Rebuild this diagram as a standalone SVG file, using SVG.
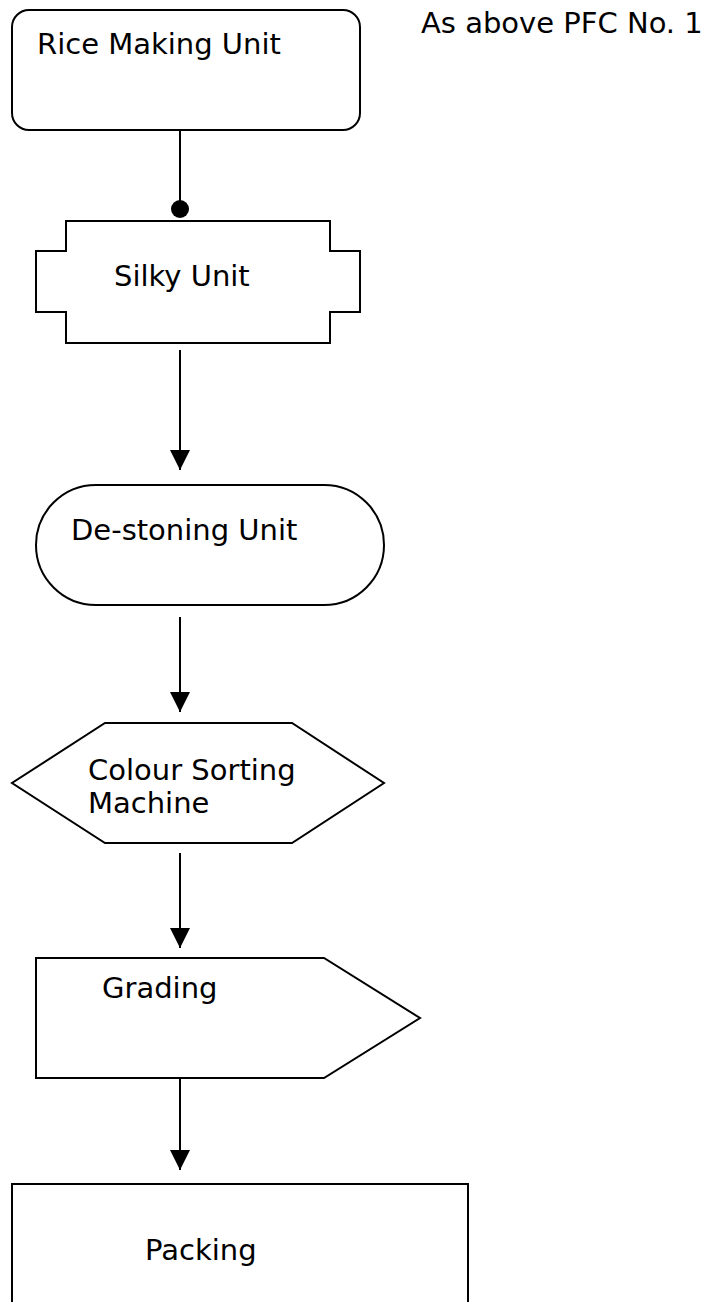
<svg xmlns="http://www.w3.org/2000/svg" width="709" height="1302" viewBox="0 0 709 1302">
<style>
.s{fill:#fff;stroke:#000;stroke-width:2}
.t{font-family:"DejaVu Sans","Verdana",sans-serif;font-size:29px;fill:#000}
.c{stroke:#000;stroke-width:2;fill:none}
</style>
<defs>
<marker id="ah" markerUnits="userSpaceOnUse" markerWidth="22" markerHeight="20" refX="20" refY="10" orient="auto">
<path d="M0,0 L20,10 L0,20 Z" fill="#000"/>
</marker>
</defs>
<rect width="709" height="1302" fill="#fff"/>
<g id="connectors">
<line class="c" x1="180" y1="130" x2="180" y2="209"/>
<circle cx="180" cy="209" r="9" fill="#000"/>
<line class="c" x1="180" y1="350" x2="180" y2="470" marker-end="url(#ah)"/>
<line class="c" x1="180" y1="617" x2="180" y2="712" marker-end="url(#ah)"/>
<line class="c" x1="180" y1="853" x2="180" y2="948" marker-end="url(#ah)"/>
<line class="c" x1="180" y1="1078" x2="180" y2="1170" marker-end="url(#ah)"/>
</g>
<g id="note">
<text class="t" x="421" y="33">As above PFC No. 1</text>
</g>
<g id="rice">
<rect class="s" x="12" y="10" width="348" height="120" rx="17"/>
<text class="t" x="37" y="54">Rice Making Unit</text>
</g>
<g id="silky">
<path class="s" d="M66,221 H330 V251 H360 V312 H330 V343 H66 V312 H36 V251 H66 Z"/>
<text class="t" x="114" y="286">Silky Unit</text>
</g>
<g id="destoning">
<rect class="s" x="36" y="485" width="348" height="120" rx="60"/>
<text class="t" x="71" y="540">De-stoning Unit</text>
</g>
<g id="colour">
<path class="s" d="M105,723 H292 L384,783 L292,843 H105 L12,783 Z"/>
<text class="t" x="88" y="780">Colour Sorting</text>
<text class="t" x="88" y="813">Machine</text>
</g>
<g id="grading">
<path class="s" d="M36,958 H324 L420,1018 L324,1078 H36 Z"/>
<text class="t" x="102" y="998">Grading</text>
</g>
<g id="packing">
<path class="s" d="M12,1320 V1184 H468 V1320"/>
<text class="t" x="145" y="1260">Packing</text>
</g>
</svg>
